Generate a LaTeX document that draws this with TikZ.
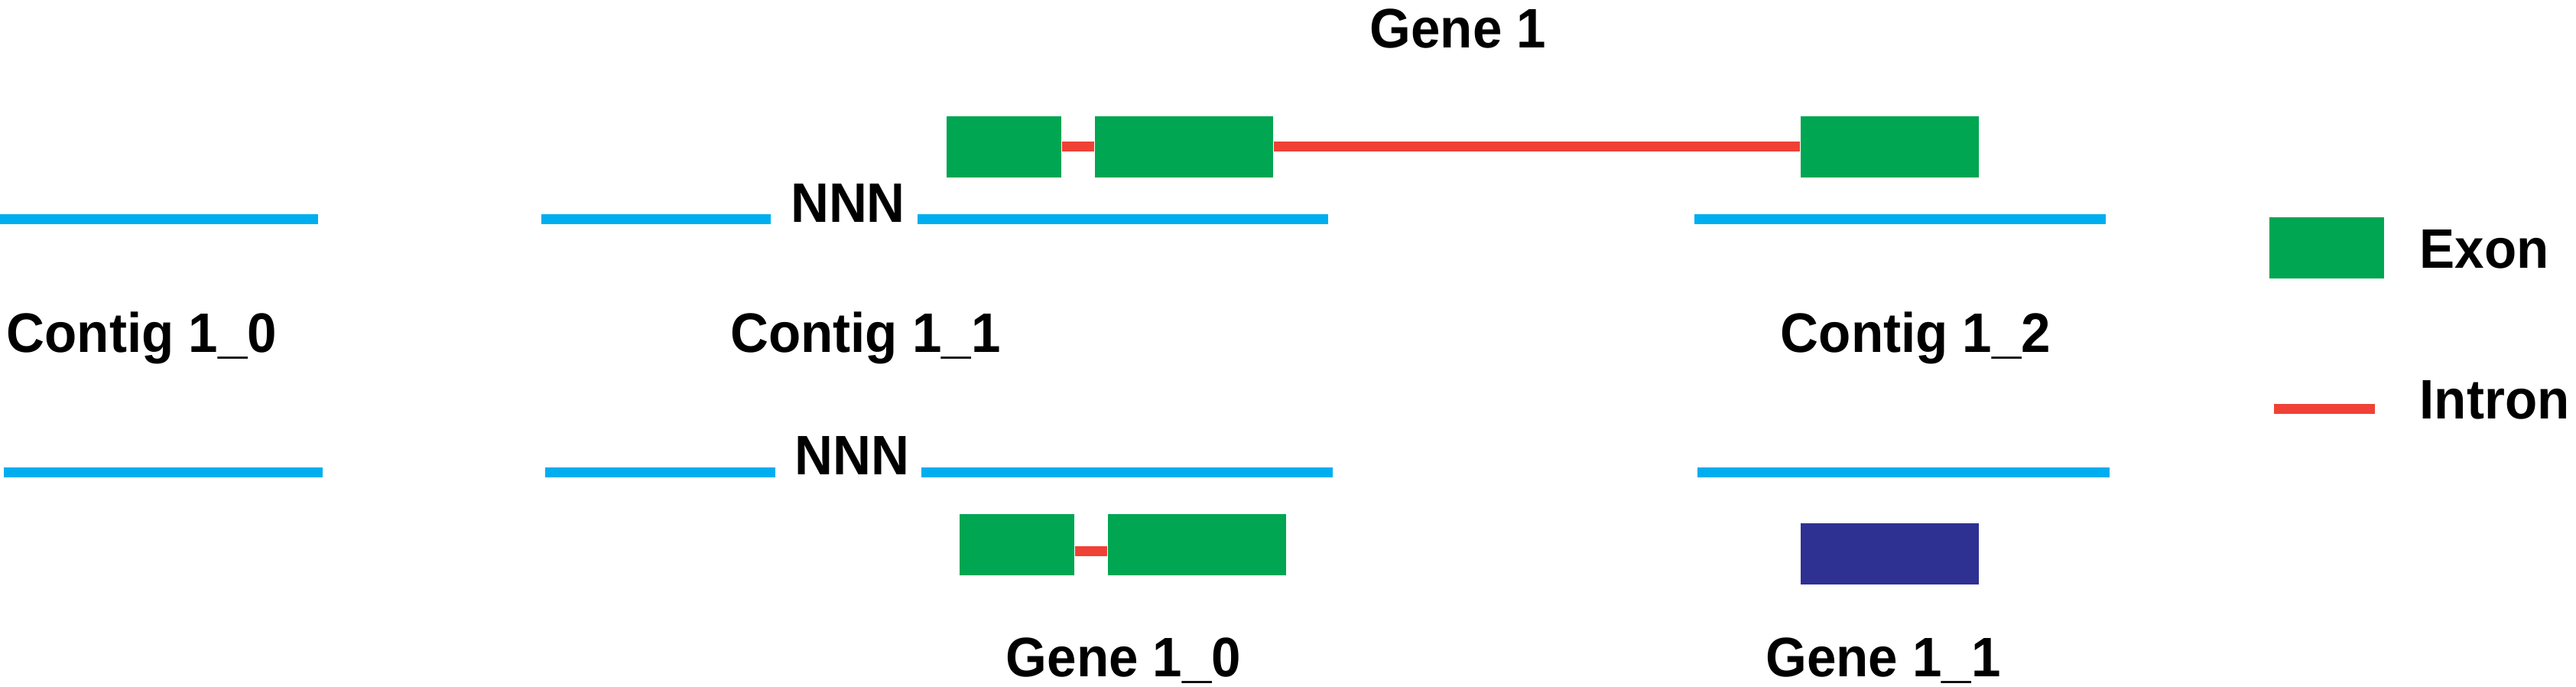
\documentclass[tikz,border=0pt]{standalone}
\usepackage{fontspec}
\setmainfont[FakeStretch=0.95]{Liberation Sans}
\usetikzlibrary{positioning}
\definecolor{contigblue}{HTML}{00AEEF}
\definecolor{exongreen}{HTML}{00A651}
\definecolor{intronred}{HTML}{EF4136}
\definecolor{genenavy}{HTML}{2E3192}

\begin{document}
\begin{tikzpicture}[
    contig/.style={draw=contigblue, line width=1.3mm},
    intron/.style={draw=intronred, line width=1.3mm},
    exon/.style={fill=exongreen, minimum height=0.8cm, inner sep=0pt},
    lbl/.style={font=\bfseries\fontsize{20.7}{24}\selectfont, inner sep=0pt, anchor=base}
]
    \useasboundingbox (0,0) rectangle (33.69,-8.98);

    % gene 1 on the draft assembly
    \node[lbl] (g1) at (19.07,-0.63) {Gene 1};
    \node[exon, minimum width=1.5cm] (e0) at (13.13,-1.92) {};
    \node[exon, minimum width=2.33cm] (e1) at (15.485,-1.92) {};
    \node[exon, minimum width=2.33cm] (e2) at (24.715,-1.92) {};
    \draw[intron] (e0.east) -- (e1.west);
    \draw[intron] (e1.east) -- (e2.west);

    % contigs before
    \node[lbl] (nnnA) at (11.09,-2.90) {NNN};
    \draw[contig] (0,-2.86) -- (4.16,-2.86);
    \draw[contig] (7.08,-2.86) -- (10.08,-2.86);
    \draw[contig] (12.00,-2.86) -- (17.37,-2.86);
    \draw[contig] (22.16,-2.86) -- (27.54,-2.86);
    \node[lbl] (c0) at (1.855,-4.60) {Contig 1\_0};
    \node[lbl] (c1) at (11.32,-4.60) {Contig 1\_1};
    \node[lbl] (c2) at (25.055,-4.60) {Contig 1\_2};

    % contigs after
    \node[lbl] (nnnB) at (11.145,-6.20) {NNN};
    \draw[contig] (0.05,-6.17) -- (4.22,-6.17);
    \draw[contig] (7.13,-6.17) -- (10.14,-6.17);
    \draw[contig] (12.05,-6.17) -- (17.43,-6.17);
    \draw[contig] (22.20,-6.17) -- (27.59,-6.17);

    % split genes
    \node[exon, minimum width=1.5cm] (f0) at (13.30,-7.115) {};
    \node[exon, minimum width=2.33cm] (f1) at (15.655,-7.115) {};
    \draw[intron] ([yshift=-0.085cm]f0.east) -- ([yshift=-0.085cm]f1.west);
    \node[exon, fill=genenavy, minimum width=2.33cm] (h0) at (24.715,-7.24) {};
    \node[lbl] (g10) at (14.695,-8.84) {Gene 1\_0};
    \node[lbl] (g11) at (24.63,-8.84) {Gene 1\_1};

    % legend
    \node[exon, minimum width=1.5cm] (legexon) at (30.43,-3.24) {};
    \node[lbl, anchor=base west] (txtexon) at (31.64,-3.50) {Exon};
    \coordinate (legA) at (29.74,-5.34);
    \coordinate (legB) at (31.06,-5.34);
    \draw[intron] (legA) -- (legB);
    \node[lbl, anchor=base west] (txtintron) at (31.64,-5.47) {Intron};
\end{tikzpicture}
\end{document}
